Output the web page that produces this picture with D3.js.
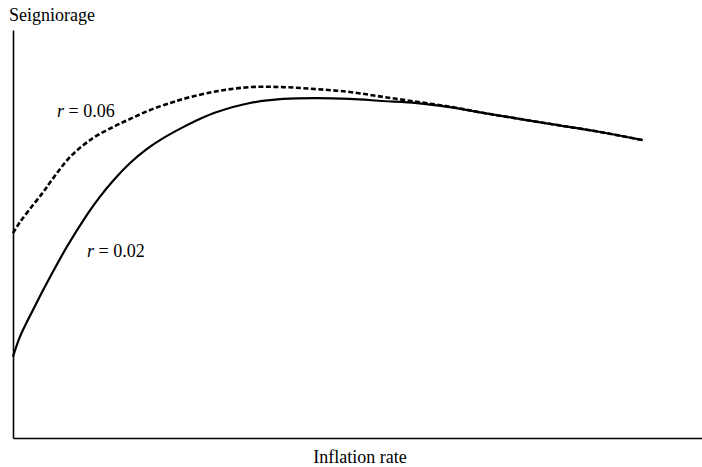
<!DOCTYPE html>
<html><head><meta charset="utf-8">
<script src="https://cdn.jsdelivr.net/npm/d3@7"></script>
<style>body{margin:0;background:#fff}svg{display:block}</style>
</head><body>
<script>
// Inflation rate (arbitrary units 0-100) and seigniorage (arbitrary units 0-100)
const inflationLow = [0,1.0,2.9,5.4,7.8,10.9,12.6,14.5,17.0,19.4,21.8,24.7,27.1,29.6,34.4,39.2,44.1,48.9,53.7,58.6,63.4,68.2,77.9,85.2,91.4];
const seignLow     = [19.9,24.8,31.4,39.5,46.8,55.1,59.1,63.0,67.4,70.8,73.5,76.2,78.2,79.9,82.1,83.1,83.3,83.1,82.6,82.1,81.1,79.7,77.0,75.0,73.0];
const inflationHigh = [0,1.0,2.9,4.4,5.4,8.3,11.6,14.5,17.0,19.9,22.8,24.7,29.6,34.4,39.2,44.1,48.9,53.7,58.6,63.4,68.2,77.9,85.2,91.4];
const seignHigh     = [50.2,52.9,57.1,60.3,62.7,68.9,73.5,76.2,78.2,80.4,82.1,83.1,85.0,86.0,86.0,85.5,84.8,83.6,82.4,81.2,79.7,77.0,75.0,73.0];
const seriesLabels = ["r = 0.02","r = 0.06"];
const axisTitles = {y:"Seigniorage", x:"Inflation rate"};

const FONT = "Liberation Serif";
const W=702,H=467;
const svg=d3.select("body").append("svg").attr("width",W).attr("height",H);
const x=d3.scaleLinear().domain([0,100]).range([13,702]);
const y=d3.scaleLinear().domain([0,100]).range([438,30]);

svg.append("g").attr("transform","translate(0,438)")
  .call(d3.axisBottom(x).ticks(0).tickSize(0).tickSizeOuter(0))
  .call(g=>g.select(".domain").attr("stroke","#000").attr("stroke-width",1.6));
svg.append("g").attr("transform","translate(13,0)")
  .call(d3.axisLeft(y).ticks(0).tickSize(0).tickSizeOuter(0))
  .call(g=>g.select(".domain").attr("stroke","#000").attr("stroke-width",1.6));

const line=d3.line().x(d=>x(d[0])).y(d=>y(d[1])).curve(d3.curveCatmullRom.alpha(0.5));
const low=d3.zip(inflationLow,seignLow);
const high=d3.zip(inflationHigh,seignHigh);

svg.append("path").datum(high).attr("d",line).attr("fill","none")
  .attr("stroke","#000").attr("stroke-width",2.6).attr("stroke-dasharray","5,2.5");
svg.append("path").datum(low).attr("d",line).attr("fill","none")
  .attr("stroke","#000").attr("stroke-width",2.2);

function addText(px,py){
  return svg.append("text").attr("x",px).attr("y",py)
    .style("font-family",FONT)
    .attr("font-size",18).attr("fill","#000");
}
function rlabel(txt,px,py){
  const t=addText(px,py);
  const parts=txt.split(" = ");
  t.append("tspan").attr("font-style","italic").text(parts[0]);
  t.append("tspan").text(" = "+parts[1]);
}
rlabel(seriesLabels[1],57,117);
rlabel(seriesLabels[0],87,257);

addText(9,21).text(axisTitles.y);
addText(360,463).attr("text-anchor","middle").text(axisTitles.x);
</script>
</body></html>
